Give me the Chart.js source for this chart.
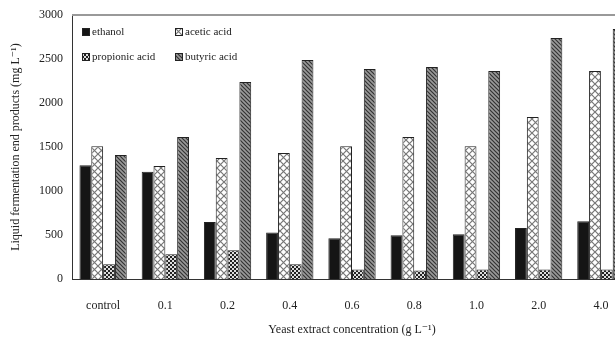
<!DOCTYPE html>
<html lang="en">
<head>
  <meta charset="UTF-8" />
  <title>Yeast extract</title>
  <script src="https://cdn.jsdelivr.net/npm/chart.js"></script>
  <style>
    html, body { margin: 0; padding: 0; background: #fff; overflow: hidden; }
    .box { width: 632px; height: 337px; }
  </style>
</head>
<body>
  <div class="box"><canvas id="grafico" width="632" height="337"></canvas></div>

  <script>
    // data (mg L-1)
    const categorias = ['control', '0.1', '0.2', '0.4', '0.6', '0.8', '1.0', '2.0', '4.0'];
    const etanol = [1295, 1220, 650, 530, 466, 500, 511, 580, 659];
    const acetico = [1511, 1284, 1375, 1432, 1511, 1614, 1511, 1841, 2364];
    const propionico = [170, 284, 330, 170, 110, 100, 110, 110, 110];
    const butirico = [1409, 1614, 2239, 2489, 2386, 2409, 2364, 2739, 2841];
    const ticksY = [0, 500, 1000, 1500, 2000, 2500, 3000];

    const fonte = '"Liberation Serif", "DejaVu Serif", serif';

    function padrao(tam, desenhar) {
      const c = document.createElement('canvas');
      c.width = tam; c.height = tam;
      const g = c.getContext('2d');
      desenhar(g, tam);
      return g.createPattern(c, 'repeat');
    }

    // acetic acid: white with diagonal cross hatch
    const padAcetico = padrao(7, (g, t) => {
      g.fillStyle = '#fff'; g.fillRect(0, 0, t, t);
      g.strokeStyle = '#777'; g.lineWidth = 1.2;
      g.beginPath();
      g.moveTo(0, 0); g.lineTo(t, t);
      g.moveTo(t, 0); g.lineTo(0, t);
      g.stroke();
    });

    // propionic acid: dark checker
    const padPropionico = padrao(4, (g, t) => {
      g.fillStyle = '#222'; g.fillRect(0, 0, t, t);
      g.fillStyle = '#ddd';
      g.fillRect(0, 0, 2, 2); g.fillRect(2, 2, 2, 2);
    });

    // butyric acid: dense diagonal stripes
    const padButirico = padrao(4, (g, t) => {
      g.fillStyle = '#9a9a9a'; g.fillRect(0, 0, t, t);
      g.strokeStyle = '#333'; g.lineWidth = 1.2;
      g.beginPath();
      g.moveTo(0, 0); g.lineTo(t, t);
      g.moveTo(-1, t - 1); g.lineTo(1, t + 1);
      g.moveTo(t - 1, -1); g.lineTo(t + 1, 1);
      g.stroke();
    });

    // legend drawn inside the plot, 2 x 2
    const legendaInterna = {
      id: 'legendaInterna',
      afterDraw(chart) {
        const ctx = chart.ctx;
        const a = chart.chartArea;
        const pos = [[a.left + 10, a.top + 17], [a.left + 103, a.top + 17],
                     [a.left + 10, a.top + 42], [a.left + 103, a.top + 42]];
        ctx.save();
        ctx.font = '11px ' + fonte;
        ctx.textBaseline = 'middle';
        chart.data.datasets.forEach((ds, i) => {
          const [x, y] = pos[i];
          ctx.fillStyle = ds.backgroundColor;
          ctx.fillRect(x, y - 4, 8, 8);
          ctx.strokeStyle = '#222';
          ctx.lineWidth = 1;
          ctx.strokeRect(x + 0.5, y - 3.5, 7, 7);
          ctx.fillStyle = '#222';
          ctx.fillText(ds.label, x + 10, y);
        });
        ctx.restore();
      }
    };

    // grey top border of the plot
    const bordaTopo = {
      id: 'bordaTopo',
      afterDraw(chart) {
        const ctx = chart.ctx;
        const a = chart.chartArea;
        ctx.save();
        ctx.strokeStyle = '#999';
        ctx.lineWidth = 2;
        ctx.beginPath();
        ctx.moveTo(a.left, a.top);
        ctx.lineTo(a.right, a.top);
        ctx.stroke();
        ctx.restore();
      }
    };

    new Chart(document.getElementById('grafico'), {
      type: 'bar',
      data: {
        labels: categorias,
        datasets: [
          { label: 'ethanol', data: etanol, backgroundColor: '#151515' },
          { label: 'acetic acid', data: acetico, backgroundColor: padAcetico },
          { label: 'propionic acid', data: propionico, backgroundColor: padPropionico },
          { label: 'butyric acid', data: butirico, backgroundColor: padButirico }
        ].map(d => Object.assign(d, {
          borderColor: '#222', borderWidth: 1,
          barPercentage: 1.0, categoryPercentage: 0.76
        }))
      },
      options: {
        responsive: false,
        animation: false,
        layout: { padding: { top: 15, right: 0, left: 4, bottom: 0 } },
        plugins: {
          legend: { display: false },
          tooltip: { enabled: false }
        },
        scales: {
          x: {
            grid: { display: false, drawTicks: false },
            border: { color: '#333', width: 1 },
            ticks: { color: '#222', font: { family: fonte, size: 12 }, padding: 19, maxRotation: 0 },
            title: {
              display: true,
              text: 'Yeast extract concentration (g L\u207B\u00B9)',
              color: '#222', font: { family: fonte, size: 12 }, padding: { top: -9, bottom: 0 }
            }
          },
          y: {
            min: 0, max: 3000,
            afterBuildTicks: s => { s.ticks = ticksY.map(v => ({ value: v })); },
            afterFit: s => { s.width = 68; },
            grid: { display: false, drawTicks: true, tickLength: 3, color: '#333' },
            border: { color: '#333', width: 1 },
            ticks: {
              color: '#222', font: { family: fonte, size: 12 }, padding: 6,
              callback: v => String(v)
            },
            title: {
              display: true,
              text: 'Liquid fermentation end products (mg L\u207B\u00B9)',
              color: '#222', font: { family: fonte, size: 12 }, padding: { top: 5, bottom: 0 }
            }
          }
        }
      },
      plugins: [legendaInterna, bordaTopo]
    });
  </script>
</body>
</html>
